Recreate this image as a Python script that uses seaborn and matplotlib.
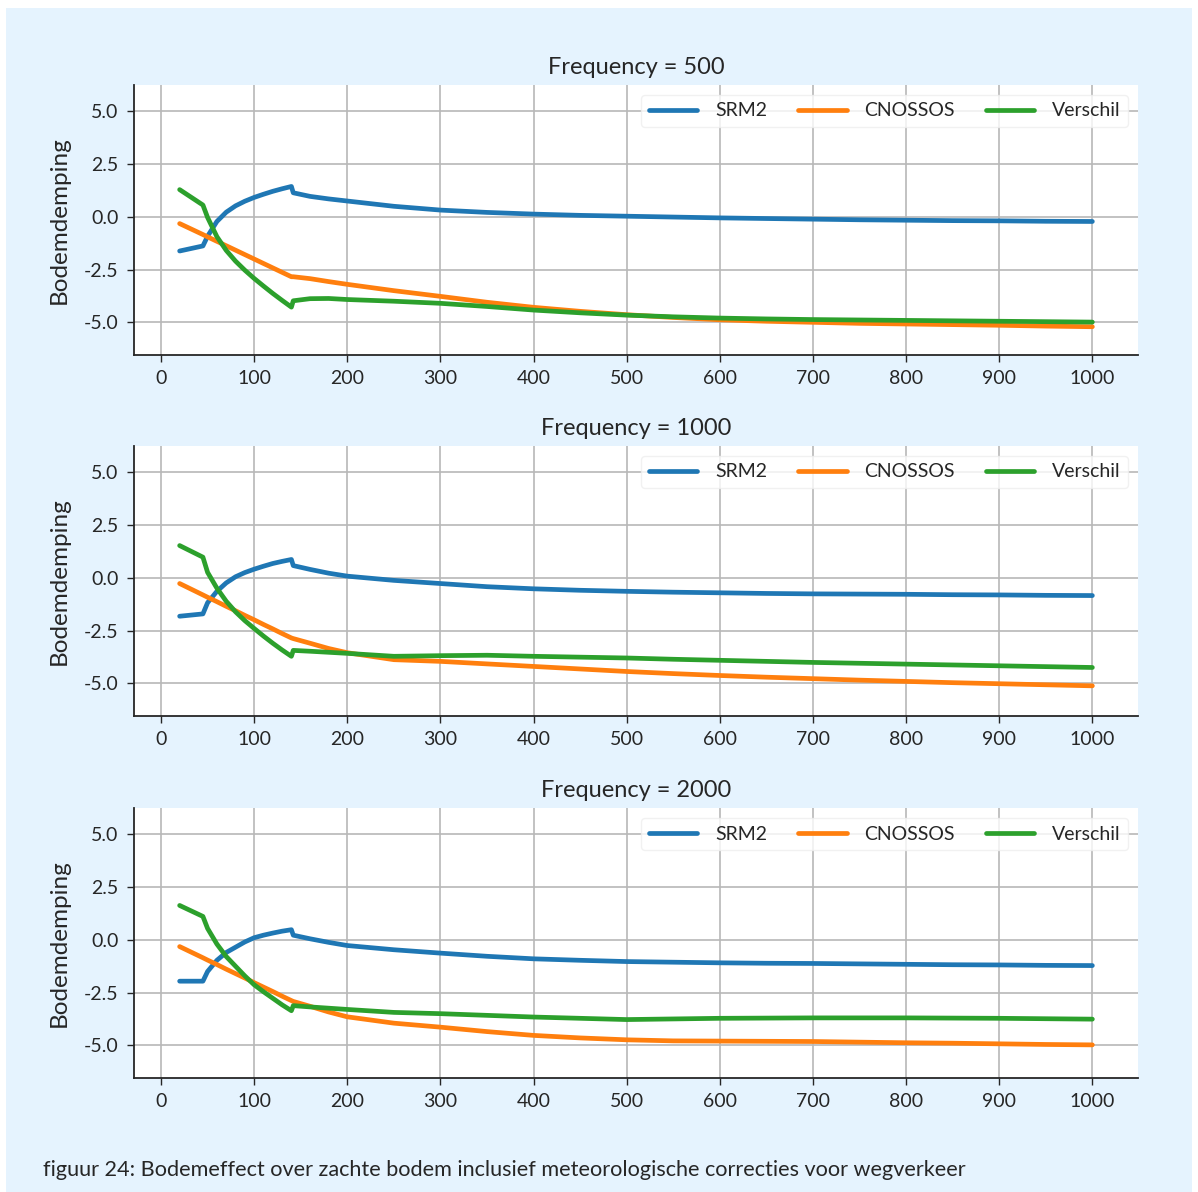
#Bodemdemping SRM2 vs CNOSSOS per frequentie
import numpy as np
import pandas as pd
import seaborn as sns
import matplotlib.pyplot as plt
from matplotlib.patches import Rectangle

#Afstand (m)
afstand = [20, 45, 50, 60, 70, 80, 90, 100, 110, 120, 130, 140, 142, 160, 180, 200,
           250, 300, 350, 400, 450, 500, 550, 600, 650, 700, 750, 800, 850, 900, 950, 1000]

#Frequency = 500
srm2_500 = [-1.62, -1.38, -0.92, -0.22, 0.22, 0.52, 0.74, 0.92, 1.07, 1.21, 1.33, 1.44, 1.14, 0.97, 0.85, 0.75,
            0.50, 0.32, 0.21, 0.13, 0.07, 0.03, -0.01, -0.05, -0.08, -0.11, -0.14, -0.16, -0.18, -0.19, -0.21, -0.22]
cnossos_500 = [-0.32, -0.84, -0.95, -1.16, -1.37, -1.58, -1.79, -2.00, -2.21, -2.42, -2.63, -2.84, -2.84, -2.93, -3.07, -3.20,
               -3.50, -3.77, -4.05, -4.29, -4.48, -4.64, -4.77, -4.88, -4.95, -5.00, -5.05, -5.08, -5.11, -5.14, -5.18, -5.21]
verschil_500 = [1.29, 0.56, -0.03, -0.94, -1.59, -2.10, -2.53, -2.92, -3.28, -3.63, -3.96, -4.28, -3.98, -3.88, -3.87, -3.92,
                -4.00, -4.10, -4.25, -4.42, -4.55, -4.66, -4.74, -4.80, -4.84, -4.87, -4.89, -4.91, -4.93, -4.95, -4.97, -4.99]

#Frequency = 1000
srm2_1000 = [-1.82, -1.71, -1.18, -0.64, -0.24, 0.05, 0.25, 0.41, 0.55, 0.68, 0.78, 0.87, 0.58, 0.40, 0.22, 0.08,
             -0.12, -0.27, -0.42, -0.52, -0.59, -0.64, -0.68, -0.71, -0.74, -0.76, -0.77, -0.78, -0.80, -0.81, -0.83, -0.84]
cnossos_1000 = [-0.27, -0.81, -0.92, -1.13, -1.35, -1.56, -1.78, -1.99, -2.21, -2.42, -2.64, -2.85, -2.88, -3.10, -3.35, -3.55,
                -3.88, -3.96, -4.08, -4.20, -4.32, -4.44, -4.54, -4.63, -4.71, -4.78, -4.85, -4.91, -4.97, -5.02, -5.07, -5.12]
verschil_1000 = [1.53, 0.98, 0.26, -0.49, -1.11, -1.61, -2.03, -2.40, -2.76, -3.10, -3.42, -3.72, -3.44, -3.48, -3.53, -3.58,
                 -3.72, -3.69, -3.67, -3.72, -3.76, -3.80, -3.86, -3.91, -3.96, -4.01, -4.05, -4.09, -4.13, -4.17, -4.21, -4.25]

#Frequency = 2000
srm2_2000 = [-1.96, -1.96, -1.50, -0.97, -0.60, -0.35, -0.10, 0.10, 0.22, 0.32, 0.41, 0.48, 0.22, 0.05, -0.12, -0.27,
             -0.47, -0.63, -0.78, -0.90, -0.97, -1.03, -1.06, -1.09, -1.11, -1.12, -1.14, -1.16, -1.18, -1.19, -1.21, -1.22]
cnossos_2000 = [-0.32, -0.85, -0.96, -1.17, -1.39, -1.60, -1.81, -2.03, -2.24, -2.45, -2.67, -2.88, -2.92, -3.15, -3.42, -3.65,
                -3.95, -4.14, -4.35, -4.53, -4.65, -4.74, -4.79, -4.80, -4.81, -4.82, -4.85, -4.88, -4.90, -4.93, -4.96, -4.98]
verschil_2000 = [1.63, 1.11, 0.54, -0.20, -0.79, -1.25, -1.71, -2.13, -2.46, -2.77, -3.08, -3.36, -3.12, -3.18, -3.24, -3.30,
                 -3.44, -3.50, -3.58, -3.66, -3.72, -3.78, -3.75, -3.72, -3.71, -3.70, -3.70, -3.70, -3.71, -3.72, -3.74, -3.76]

frequenties = [500, 1000, 2000]
reeksen = {500: (srm2_500, cnossos_500, verschil_500),
           1000: (srm2_1000, cnossos_1000, verschil_1000),
           2000: (srm2_2000, cnossos_2000, verschil_2000)}
namen = ["SRM2", "CNOSSOS", "Verschil"]
kleuren = ["#1f77b4", "#ff7f0e", "#2ca02c"]

sns.set_style("ticks")
plt.rcParams['font.family'] = ['Lato', 'DejaVu Sans']

fig = plt.figure(figsize=(11.98, 11.92), dpi=100)
fig.patch.set_facecolor("white")
fig.patches.append(Rectangle((6/1198, 0), 1186/1198, 1184/1192, transform=fig.transFigure,
                             facecolor="#e5f3fe", edgecolor="none", zorder=-10))

W, H = 1198, 1192
tops = [85, 446, 808]  #pixel top of each panel

for freq, top in zip(frequenties, tops):
    ax = fig.add_axes([134/W, 1 - (top + 270)/H, 1004/W, 270/H])
    srm2, cnossos, verschil = reeksen[freq]
    df = pd.DataFrame({"afstand": afstand, "SRM2": srm2, "CNOSSOS": cnossos, "Verschil": verschil})
    long = df.melt(id_vars="afstand", var_name="type", value_name="Bodemdemping")
    sns.lineplot(data=long, x="afstand", y="Bodemdemping", hue="type", hue_order=namen,
                 palette=kleuren, lw=3.4, ax=ax)
    ax.set_xlim(-29, 1049)
    ax.set_ylim(-6.55, 6.25)
    ax.set_xticks(range(0, 1001, 100))
    ax.set_yticks([-5, -2.5, 0, 2.5, 5])
    ax.yaxis.set_major_formatter(plt.FormatStrFormatter('%.1f'))
    ax.grid(True, color="#b8b8b8", lw=1.2)
    ax.set_axisbelow(True)
    ax.tick_params(labelsize=14, length=5, width=1, pad=6)
    ax.set_xlabel("")
    ax.set_ylabel("Bodemdemping", fontsize=17.5, labelpad=10)
    ax.set_title(f"Frequency = {freq}", fontsize=17, pad=8)
    sns.despine(ax=ax)
    for s in ["left", "bottom"]:
        ax.spines[s].set_linewidth(1.3)
    leg = ax.legend(ncol=3, loc="upper right", fontsize=14, handlelength=2.5,
                    handletextpad=0.9, columnspacing=1.6, frameon=True)
    leg.get_frame().set_edgecolor("#eeeeee")
    for line in leg.get_lines():
        line.set_linewidth(3.4)

fig.text(43/W, 1 - 1170/H, "figuur 24: Bodemeffect over zachte bodem inclusief meteorologische correcties voor wegverkeer",
         fontsize=15.6, va="center", ha="left")

fig.savefig("out.png", dpi=100)
